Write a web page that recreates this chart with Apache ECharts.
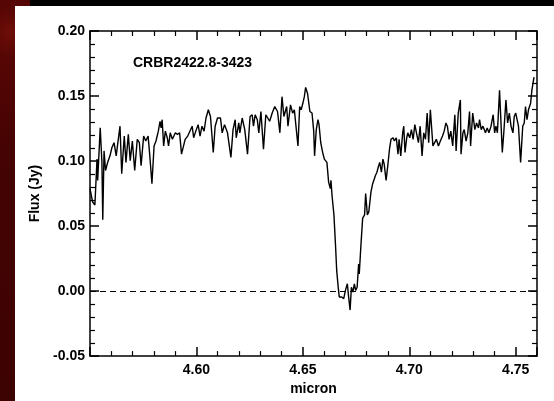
<!DOCTYPE html>
<html>
<head>
<meta charset="utf-8">
<script src="https://cdn.jsdelivr.net/npm/echarts@6/dist/echarts.min.js"></script>
<style>
  html, body { margin: 0; padding: 0; }
  body {
    width: 554px; height: 401px; overflow: hidden; position: relative;
    background: radial-gradient(circle at 10px 32px, #6e0e08 0, #560605 25px, #450303 120px, #3c0202 400px);
  }
  #topbar { position: absolute; left: 30px; top: 0; width: 524px; height: 6px; background: #000; }
  #panel { position: absolute; left: 15px; top: 6px; width: 539px; height: 395px; background: #fff; }
  #chart { position: absolute; left: 0; top: 0; width: 554px; height: 401px; }
</style>
</head>
<body>
<div id="topbar"></div>
<div id="panel"></div>
<div id="chart"></div>
<script>
// spectrum: wavelength (micron) and flux (Jy)
const wave = [
  4.5500, 4.5512, 4.5523, 4.5533, 4.5536, 4.5548, 4.5556, 4.5560, 4.5566, 4.5573,
  4.5583, 4.5594, 4.5603, 4.5613, 4.5623, 4.5629, 4.5641, 4.5649, 4.5661, 4.5669,
  4.5680, 4.5689, 4.5699, 4.5710, 4.5722, 4.5732, 4.5740, 4.5752, 4.5762, 4.5773,
  4.5781, 4.5791, 4.5801, 4.5810, 4.5821, 4.5829, 4.5834, 4.5839, 4.5846, 4.5854,
  4.5863, 4.5869, 4.5877, 4.5887, 4.5901, 4.5911, 4.5921, 4.5930, 4.5937, 4.5947,
  4.5959, 4.5967, 4.5980, 4.5987, 4.5997, 4.6008, 4.6017, 4.6026, 4.6036, 4.6045,
  4.6056, 4.6066, 4.6070, 4.6079, 4.6088, 4.6099, 4.6113, 4.6121, 4.6132, 4.6146,
  4.6162, 4.6172, 4.6182, 4.6187, 4.6199, 4.6204, 4.6215, 4.6227, 4.6240, 4.6252,
  4.6262, 4.6268, 4.6276, 4.6286, 4.6293, 4.6303, 4.6315, 4.6326, 4.6334, 4.6344,
  4.6356, 4.6368, 4.6381, 4.6392, 4.6402, 4.6411, 4.6424, 4.6430, 4.6442, 4.6452,
  4.6460, 4.6477, 4.6485, 4.6492, 4.6500, 4.6507, 4.6513, 4.6522, 4.6533, 4.6543,
  4.6551, 4.6555, 4.6563, 4.6571, 4.6576, 4.6584, 4.6593, 4.6601, 4.6613, 4.6621,
  4.6629, 4.6632, 4.6637, 4.6646, 4.6654, 4.6659, 4.6666, 4.6671, 4.6682, 4.6692,
  4.6700, 4.6709, 4.6715, 4.6722, 4.6728, 4.6735, 4.6742, 4.6748, 4.6755, 4.6762,
  4.6765, 4.6773, 4.6781, 4.6790, 4.6795, 4.6803, 4.6810, 4.6820, 4.6828, 4.6835,
  4.6841, 4.6848, 4.6854, 4.6861, 4.6869, 4.6876, 4.6882, 4.6891, 4.6899, 4.6907,
  4.6914, 4.6924, 4.6930, 4.6939, 4.6947, 4.6952, 4.6960, 4.6969, 4.6974, 4.6980,
  4.6988, 4.6993, 4.7002, 4.7010, 4.7018, 4.7026, 4.7035, 4.7043, 4.7051, 4.7060,
  4.7068, 4.7076, 4.7084, 4.7091, 4.7099, 4.7111, 4.7119, 4.7127, 4.7137, 4.7146,
  4.7156, 4.7164, 4.7172, 4.7179, 4.7187, 4.7195, 4.7204, 4.7214, 4.7220, 4.7230,
  4.7240, 4.7243, 4.7252, 4.7258, 4.7267, 4.7275, 4.7283, 4.7288, 4.7298, 4.7308,
  4.7316, 4.7325, 4.7330, 4.7338, 4.7346, 4.7358, 4.7366, 4.7374, 4.7384, 4.7394,
  4.7401, 4.7407, 4.7414, 4.7424, 4.7437, 4.7444, 4.7454, 4.7462, 4.7470, 4.7478,
  4.7487, 4.7493, 4.7500, 4.7507, 4.7513, 4.7523, 4.7533, 4.7540, 4.7546, 4.7553,
  4.7560, 4.7570, 4.7576, 4.7586
];
const flux = [
  0.0788, 0.0687, 0.0662, 0.1015, 0.0851, 0.1255, 0.0990, 0.0548, 0.1078, 0.0927,
  0.0990, 0.1040, 0.1104, 0.1141, 0.1040, 0.1116, 0.1268, 0.0902, 0.1192, 0.0990,
  0.1205, 0.1003, 0.1154, 0.0927, 0.1167, 0.1141, 0.0965, 0.1192, 0.1154, 0.1192,
  0.1040, 0.0826, 0.1116, 0.1154, 0.1230, 0.1306, 0.1255, 0.1318, 0.1116, 0.1230,
  0.1179, 0.1116, 0.1217, 0.1167, 0.1217, 0.1205, 0.1217, 0.1053, 0.1040, 0.1167,
  0.1192, 0.1205, 0.1268, 0.1179, 0.1230, 0.1280, 0.1192, 0.1268, 0.1230, 0.1331,
  0.1394, 0.1343, 0.1356, 0.1066, 0.1268, 0.1331, 0.1331, 0.1217, 0.1280, 0.1217,
  0.1028, 0.1242, 0.1318, 0.1179, 0.1293, 0.1217, 0.1331, 0.1242, 0.1053, 0.1343,
  0.1356, 0.1268, 0.1356, 0.1318, 0.1217, 0.1381, 0.1091, 0.1356, 0.1356, 0.1306,
  0.1369, 0.1419, 0.1381, 0.1217, 0.1495, 0.1343, 0.1419, 0.1268, 0.1432, 0.1369,
  0.1394, 0.1116, 0.1419, 0.1394, 0.1444, 0.1495, 0.1566, 0.1520, 0.1381, 0.1369,
  0.1230, 0.1040, 0.1242, 0.1318, 0.1280, 0.1141, 0.1066, 0.1015, 0.0990, 0.0838,
  0.0788, 0.0851, 0.0737, 0.0586, 0.0333, 0.0157, 0.0030, -0.0045, -0.0045, -0.0058,
  0.0005, 0.0056, -0.0045, -0.0146, 0.0030, -0.0008, 0.0056, 0.0005, 0.0030, 0.0207,
  0.0131, 0.0359, 0.0561, 0.0586, 0.0750, 0.0586, 0.0611, 0.0763, 0.0826, 0.0813,
  0.0889, 0.0914, 0.0952, 0.0990, 0.0914, 0.1015, 0.0977, 0.0851, 0.0965, 0.1091,
  0.1167, 0.1179, 0.1154, 0.1179, 0.1053, 0.1167, 0.1040, 0.1217, 0.1268, 0.1066,
  0.1179, 0.1217, 0.1179, 0.1242, 0.1167, 0.1280, 0.1293, 0.1141, 0.1268, 0.1040,
  0.1217, 0.1167, 0.1369, 0.1141, 0.1394, 0.1116, 0.1104, 0.1167, 0.1116, 0.1154,
  0.1192, 0.1230, 0.1293, 0.1268, 0.1167, 0.1230, 0.1116, 0.1356, 0.1078, 0.1369,
  0.1470, 0.1053, 0.1217, 0.1242, 0.1154, 0.1217, 0.1381, 0.1116, 0.1369, 0.1242,
  0.1293, 0.1255, 0.1318, 0.1242, 0.1268, 0.1217, 0.1255, 0.1217, 0.1268, 0.1356,
  0.1217, 0.1268, 0.1217, 0.1545, 0.1066, 0.1217, 0.1470, 0.1293, 0.1369, 0.1268,
  0.1217, 0.1343, 0.1369, 0.1381, 0.1268, 0.0990, 0.1268, 0.1293, 0.1419, 0.1318,
  0.1394, 0.1444, 0.1545, 0.1646
];

const xMin = 4.55, xMax = 4.76, xStep = 0.05;
const yMin = -0.05, yMax = 0.20, yStep = 0.05;
const objectName = 'CRBR2422.8-3423';

const font = 'Liberation Sans, Arial, Helvetica, sans-serif';
const black = '#000';

const spectrum = wave.map((w, i) => [w, flux[i]]);

function frameAxis(extra) {
  return Object.assign({
    type: 'value',
    axisLine: { show: true, onZero: false, lineStyle: { color: black, width: 1.5 } },
    axisTick: { show: true, inside: true, length: 9, lineStyle: { color: black, width: 1.5 } },
    minorTick: { show: true, splitNumber: 5, length: 5, lineStyle: { color: black, width: 1.2 } },
    splitLine: { show: false },
    axisLabel: { show: false }
  }, extra);
}

const chart = echarts.init(document.getElementById('chart'));
chart.setOption({
  backgroundColor: 'transparent',
  animation: false,
  grid: { left: 90, right: 17, top: 31, bottom: 41 },
  xAxis: [
    frameAxis({
      position: 'bottom', min: xMin, max: xMax, interval: xStep,
      name: 'micron', nameLocation: 'middle', nameGap: 20,
      nameTextStyle: { color: black, fontFamily: font, fontWeight: 'bold', fontSize: 14 },
      axisLabel: {
        show: true, margin: 7, color: black, fontFamily: font, fontWeight: 'bold', fontSize: 14,
        formatter: v => (v < xMin + 0.001 || v > xMax - 0.001) ? '' : v.toFixed(2)
      }
    }),
    frameAxis({ position: 'top', min: xMin, max: xMax, interval: xStep })
  ],
  yAxis: [
    frameAxis({
      position: 'left', min: yMin, max: yMax, interval: yStep,
      name: 'Flux (Jy)', nameLocation: 'middle', nameGap: 41, nameRotate: 90,
      nameTextStyle: { color: black, fontFamily: font, fontWeight: 'bold', fontSize: 14 },
      axisLabel: {
        show: true, margin: 5, color: black, fontFamily: font, fontWeight: 'bold', fontSize: 14,
        formatter: v => v.toFixed(2)
      }
    }),
    frameAxis({ position: 'right', min: yMin, max: yMax, interval: yStep })
  ],
  graphic: [{
    type: 'text', left: 133, top: 56,
    style: { text: objectName, fill: black, font: 'bold 14px ' + font }
  }],
  series: [{
    type: 'line',
    xAxisIndex: 0, yAxisIndex: 0,
    data: spectrum,
    showSymbol: false,
    lineStyle: { color: black, width: 1.4 },
    markLine: {
      silent: true, symbol: 'none', label: { show: false },
      lineStyle: { color: black, width: 1.2, type: [6, 4] },
      data: [{ yAxis: 0 }]
    }
  }]
});
</script>
</body>
</html>
